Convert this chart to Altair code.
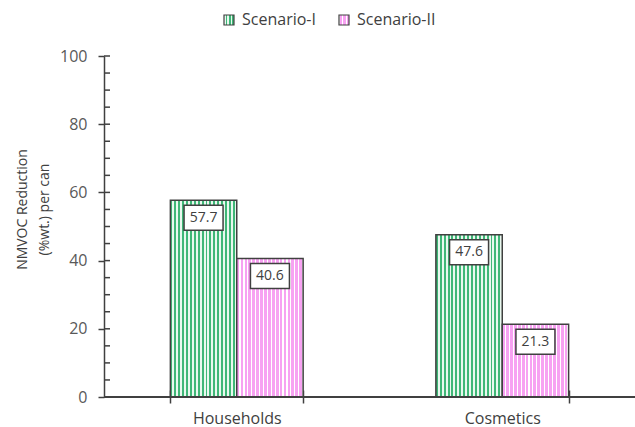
import altair as alt
import pandas as pd

# ---- data -------------------------------------------------------------
categories = ["Households", "Cosmetics"]
scenarios = ["Scenario-I", "Scenario-II"]
scenario_1 = [57.7, 47.6]
scenario_2 = [40.6, 21.3]
minor_ticks = list(range(0, 101, 5))

rows = []
for i, cat in enumerate(categories):
    rows.append({"category": cat, "scenario": scenarios[0], "value": scenario_1[i]})
    rows.append({"category": cat, "scenario": scenarios[1], "value": scenario_2[i]})
df = pd.DataFrame(rows)
ticks_df = pd.DataFrame({"y": minor_ticks})

FONT = "Open Sans"
TEXT = "#404040"
LINE = "#404040"


def stripe_fill(color_a, color_b, periods, split=0.5):
    """Vega gradient expression drawing hard-edged vertical stripes."""
    stops = []
    for k in range(periods):
        a0 = k / periods
        a1 = (k + split) / periods
        b1 = (k + 1) / periods
        stops += [(a0, color_a), (a1, color_a), (a1, color_b), (b1, color_b)]
    stop_txt = ",".join("{offset:%.5f,color:'%s'}" % (o, c) for o, c in stops)
    return {"expr": "{gradient:'linear',x1:0,y1:0,x2:1,y2:0,stops:[%s]}" % stop_txt}


green_fill = stripe_fill("#3fb777", "#e9f8ef", 17, 0.5)
pink_fill = stripe_fill("#f7a2f2", "#ffffff", 17, 0.7)

x_enc = alt.X(
    "category:N",
    sort=categories,
    title=None,
    scale=alt.Scale(paddingInner=0.5, paddingOuter=0.25),
    axis=alt.Axis(
        tickBand="extent",
        domain=False,
        offset=-7,
        tickSize=13,
        tickColor=LINE,
        tickWidth=1.5,
        labelPadding=7,
        labelFont=FONT,
        labelFontSize=16,
        labelColor=TEXT,
        labelAngle=0,
    ),
)
xoff = alt.XOffset("scenario:N", sort=scenarios)
y_scale = alt.Scale(domain=[0, 100], nice=False)

bars = alt.Chart(df).mark_bar(stroke=LINE, strokeWidth=1.5).encode(
    x=x_enc,
    xOffset=xoff,
    y=alt.Y(
        "value:Q",
        scale=y_scale,
        title=["NMVOC Reduction", "(%wt.) per can"],
        axis=alt.Axis(
            values=[0, 20, 40, 60, 80, 100],
            grid=False,
            domainColor=LINE,
            domainWidth=1.5,
            tickColor=LINE,
            tickWidth=1.5,
            tickSize=6,
            labelPadding=11,
            labelFont=FONT,
            labelFontSize=16,
            labelColor="#595959",
            titleFont=FONT,
            titleFontSize=14,
            titleFontWeight="normal",
            titleColor=TEXT,
            titleLineHeight=22,
            titlePadding=8,
            titleY=153,
        ),
    ),
    color=alt.Color(
        "scenario:N",
        sort=scenarios,
        scale=alt.Scale(domain=scenarios, range=[green_fill, pink_fill]),
        legend=alt.Legend(
            title=None,
            orient="none",
            direction="horizontal",
            legendX=117,
            legendY=-44,
            symbolType="square",
            symbolSize=100,
            symbolStrokeColor=LINE,
            symbolStrokeWidth=1.2,
            labelFont=FONT,
            labelFontSize=16,
            labelColor=TEXT,
            labelOffset=5,
            columnPadding=20,
        ),
    ),
)

# inward half of every tick on the value axis
inner_ticks = alt.Chart(ticks_df).mark_rule(color=LINE, strokeWidth=1.5).encode(
    y=alt.Y("y:Q", scale=y_scale),
    x=alt.value(0),
    x2=alt.value(6),
)

# category axis baseline
baseline = alt.Chart(ticks_df).mark_rule(color=LINE, strokeWidth=1.5).encode(
    y=alt.datum(0, scale=y_scale),
    x=alt.value(0),
    x2=alt.value({"expr": "width"}),
)

# white value boxes (39 x 25 px rectangles) just below each bar top
box_path = "M-1,-0.641L1,-0.641L1,0.641L-1,0.641Z"
boxes = alt.Chart(df).mark_point(
    shape=box_path,
    size=1521,
    filled=True,
    fill="white",
    stroke=LINE,
    strokeWidth=1.5,
    opacity=1,
    yOffset=17.5,
).encode(x=alt.X("category:N", sort=categories), xOffset=xoff, y=alt.Y("value:Q", scale=y_scale))

labels = alt.Chart(df).mark_text(
    font=FONT, fontSize=14, color=TEXT, baseline="middle", yOffset=17.5
).encode(
    x=alt.X("category:N", sort=categories),
    xOffset=xoff,
    y=alt.Y("value:Q", scale=y_scale),
    text=alt.Text("value:Q", format=".1f"),
)

chart = (
    alt.layer(bars, inner_ticks, baseline, boxes, labels)
    .properties(
        width=531,
        height=341,
        autosize=alt.AutoSizeParams(type="none"),
        padding={"left": 104, "top": 56, "right": 0, "bottom": 30},
        background="white",
    )
    .configure_view(stroke=None)
)

chart.save("out.html", embed_options={"renderer": "svg", "actions": False})
